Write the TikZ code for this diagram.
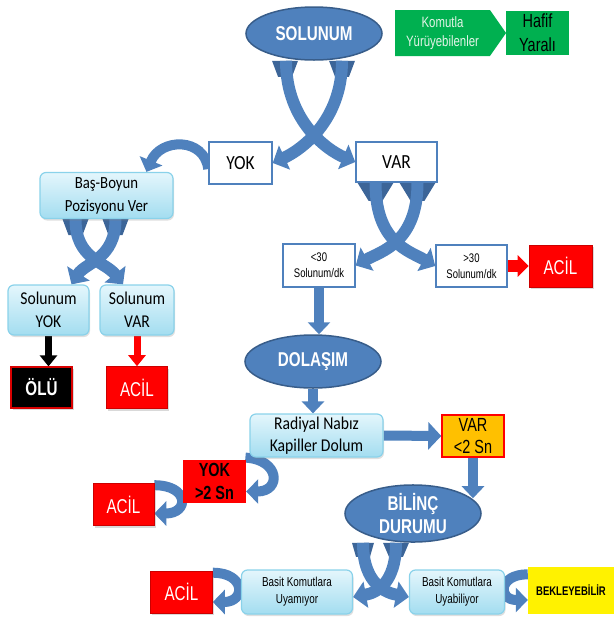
\documentclass[tikz,border=0pt]{standalone}
\usepackage{fontspec}
\setmainfont[FakeStretch=0.87]{Carlito}
\newfontfamily\narrowfont[FakeStretch=0.76]{Liberation Sans}
\usetikzlibrary{shapes.geometric,shapes.symbols,arrows.meta,backgrounds,shadows}

\definecolor{ovalblue}{HTML}{4F81BD}
\definecolor{ovalline}{HTML}{385D8A}
\definecolor{ribbonback}{HTML}{3C6598}
\definecolor{cyantop}{HTML}{E4F6FC}
\definecolor{cyanbottom}{HTML}{A3DDF0}
\definecolor{cyanline}{HTML}{8AD2EA}
\definecolor{alarmred}{HTML}{FF0000}
\definecolor{waitorange}{HTML}{FFC000}
\definecolor{walkgreen}{HTML}{00B050}
\definecolor{mintwhite}{HTML}{E4F4E8}

\tikzset{
  oval/.style={ellipse, fill=ovalblue, draw=ovalline, line width=1.5pt, text=white, align=center,
    inner sep=0pt, minimum width=136pt, font=\narrowfont\bfseries\fontsize{20}{23}\selectfont},
  answerbox/.style={rectangle, draw=ovalblue, line width=1.5pt, fill=white, align=center, inner sep=0pt},
  stepbox/.style={rectangle, rounded corners=6pt, draw=cyanline, line width=1.2pt, top color=cyantop,
    bottom color=cyanbottom, align=center, inner sep=0pt,
    drop shadow={opacity=0.25, shadow xshift=1pt, shadow yshift=-2pt}},
  acilbox/.style={rectangle, fill=alarmred, draw=alarmred!80!black, line width=0.6pt, text=white,
    align=center, inner sep=0pt, minimum width=61pt, minimum height=42pt,
    font=\narrowfont\fontsize{20}{23}\selectfont,
    drop shadow={opacity=0.3, shadow xshift=1.5pt, shadow yshift=-2pt}},
  crossarm/.style={draw=ovalblue, line width=12pt, -{Triangle[width=26pt,length=13pt]}},
  ribbonend/.style={fill=ribbonback},
  uturn/.style={draw=ovalblue, line width=10pt, -{Triangle[width=24pt,length=12pt]}},
  flowarrow/.style={draw=ovalblue, line width=10pt, -{Triangle[width=22pt,length=12pt]}},
  smallarrow/.style={line width=7pt, -{Triangle[width=17pt,length=11pt]}},
}

\begin{document}
\begin{tikzpicture}[x=1pt,y=-1pt]
\useasboundingbox (0,0) rectangle (614,619);
% draw top row
\node[oval, minimum height=53pt] (solunum) at (314,33.5) {SOLUNUM};
\node[signal, signal to=east, signal pointer angle=110, fill=walkgreen, text=mintwhite,
  minimum width=111pt, minimum height=46pt, inner sep=0pt, align=center,
  font=\narrowfont\fontsize{15}{19}\selectfont] (komutla) at (442.5,33) {Komutla\\Yürüyebilenler};
\node[rectangle, fill=walkgreen, minimum width=63pt, minimum height=44pt, inner sep=0pt, align=center,
  font=\narrowfont\fontsize{19}{24}\selectfont] (hafif) at (537.5,33) {Hafif\\Yaralı};
% draw yok / var
\node[answerbox, minimum width=63pt, minimum height=42pt, font=\fontsize{20}{24}\selectfont] (yok) at (240.5,163) {YOK};
\node[answerbox, minimum width=81pt, minimum height=40pt, font=\fontsize{20}{24}\selectfont] (var) at (396.5,162) {VAR};
% draw left branch
\node[stepbox, minimum width=133pt, minimum height=46pt, font=\fontsize{17}{23}\selectfont] (bas) at (106.5,195.5) {Baş-Boyun\\Pozisyonu Ver};
\node[stepbox, minimum width=81pt, minimum height=50pt, font=\fontsize{18}{23}\selectfont] (syok) at (48.5,310) {Solunum\\YOK};
\node[stepbox, minimum width=74pt, minimum height=50pt, font=\fontsize{18}{23}\selectfont] (svar) at (137,310) {Solunum\\VAR};
\node[rectangle, fill=black, draw=alarmred!85!black, line width=1.2pt, text=white, minimum width=61pt,
  minimum height=41pt, inner sep=0pt, font=\narrowfont\bfseries\fontsize{20}{23}\selectfont,
  drop shadow={opacity=0.3, shadow xshift=1.5pt, shadow yshift=-2pt}] (olu) at (41.5,387.5) {ÖLÜ};
\node[acilbox] (acila) at (137,387.5) {ACİL};
% draw rate boxes
\node[answerbox, minimum width=72pt, minimum height=43pt, font=\narrowfont\fontsize{12.5}{16}\selectfont] (lt30) at (319,265.5) {<30\\Solunum/dk};
\node[answerbox, minimum width=71pt, minimum height=42pt, font=\narrowfont\fontsize{12.5}{16}\selectfont] (gt30) at (471.5,266) {>30\\Solunum/dk};
\node[acilbox, minimum width=63pt] (acilb) at (560.5,266) {ACİL};
% draw circulation
\node[oval, minimum height=53pt] (dolasim) at (313,361.5) {DOLAŞIM};
\node[stepbox, minimum width=133pt, minimum height=43pt, font=\fontsize{18}{22}\selectfont] (radiyal) at (316.5,435.5) {Radiyal Nabız\\Kapiller Dolum};
\node[rectangle, fill=waitorange, draw=alarmred, line width=1.5pt, minimum width=62pt, minimum height=42pt,
  inner sep=0pt, align=center, font=\narrowfont\fontsize{19}{22}\selectfont] (var2) at (473,436) {VAR\\<2 Sn};
\node[rectangle, fill=alarmred, minimum width=63pt, minimum height=43pt, inner sep=0pt, align=center,
  font=\narrowfont\bfseries\fontsize{19}{23}\selectfont] (yok2) at (214.5,481.5) {YOK\\>2 Sn};
\node[acilbox] (acilc) at (123.5,504.5) {ACİL};
% draw consciousness
\node[oval, minimum height=56pt] (bilinc) at (413,513.5) {BİLİNÇ\\DURUMU};
\node[stepbox, minimum width=111pt, minimum height=44pt, font=\narrowfont\fontsize{13}{17}\selectfont] (uyamiyor) at (297,592) {Basit Komutlara\\Uyamıyor};
\node[stepbox, minimum width=95pt, minimum height=44pt, font=\narrowfont\fontsize{13}{17}\selectfont] (uyabiliyor) at (457,592) {Basit Komutlara\\Uyabiliyor};
\node[acilbox, minimum width=62pt] (acild) at (181.5,592) {ACİL};
\node[rectangle, fill=yellow, minimum width=86pt, minimum height=47pt, inner sep=0pt,
  font=\narrowfont\bfseries\fontsize{12.5}{15}\selectfont] (bekle) at (571,590) {BEKLEYEBİLİR};

\begin{pgfonlayer}{background}
% draw ribbon ends
\fill[ribbonend] ([xshift=-42pt]solunum.south) -- ++(26,0) -- ++(-6,16) -- ++(-14,0) -- cycle;
\fill[ribbonend] ([xshift=15pt]solunum.south) -- ++(26,0) -- ++(-6,16) -- ++(-14,0) -- cycle;
\fill[ribbonend] ([xshift=-44pt]bas.south) -- ++(26,0) -- ++(-6,16) -- ++(-14,0) -- cycle;
\fill[ribbonend] ([xshift=-4pt]bas.south) -- ++(26,0) -- ++(-6,16) -- ++(-14,0) -- cycle;
\fill[ribbonend] ([xshift=-39pt]var.south) -- ++(36,0) -- ++(-11,18) -- ++(-14,0) -- cycle;
\fill[ribbonend] ([xshift=3pt]var.south) -- ++(36,0) -- ++(-11,18) -- ++(-14,0) -- cycle;
\fill[ribbonend] ([xshift=-61pt]bilinc.south) -- ++(22,0) -- ++(-4,14) -- ++(-14,0) -- cycle;
\fill[ribbonend] ([xshift=-30pt]bilinc.south) -- ++(26,0) -- ++(-6,14) -- ++(-14,0) -- cycle;
% draw crossing arrows
\draw[crossarm] ([xshift=28pt]solunum.south) .. controls +(0,62) and +(26,-12) .. (yok.east);
\draw[crossarm] ([xshift=-28pt]solunum.south) .. controls +(0,62) and +(-26,-11) .. (var.west);
\draw[crossarm] ([xshift=9pt]bas.south) .. controls +(0,40) and +(14,-22) .. ([xshift=23pt]syok.north);
\draw[crossarm] ([xshift=-31pt]bas.south) .. controls +(0,40) and +(-18,-23) .. ([xshift=-14pt]svar.north);
\draw[crossarm] ([xshift=21pt]var.south) .. controls +(0,60) and +(25,-14) .. (lt30.east);
\draw[crossarm] ([xshift=-21pt]var.south) .. controls +(0,60) and +(-26,-15) .. (gt30.west);
\draw[crossarm] ([xshift=-17pt]bilinc.south) .. controls +(0,42) and +(22,-4) .. ([yshift=-5pt]uyamiyor.east);
\draw[crossarm] ([xshift=-50pt]bilinc.south) .. controls +(0,42) and +(-22,-4) .. ([yshift=-5pt]uyabiliyor.west);
% draw turning arrows
\draw[uturn] ([yshift=-6pt]yok.west) .. controls +(-4,-32) and +(14,-34) .. ([xshift=40pt]bas.north);
\draw[uturn] ([xshift=-4pt]radiyal.south west) .. controls +(35,2) and +(35,0) .. ([yshift=-10pt]yok2.east);
\draw[uturn] ([yshift=-2pt]acilc.north east) .. controls +(35,0) and +(35,0) .. ([yshift=-9pt]acilc.east);
\draw[uturn] ([yshift=-2pt]acild.north east) .. controls +(33,0) and +(33,0) .. ([yshift=-10pt]acild.east);
\draw[uturn] ([yshift=-8pt]bekle.north west) .. controls +(-30,0) and +(-30,0) .. ([yshift=-10pt]bekle.west);
% draw straight arrows
\draw[flowarrow] (lt30.south) -- (lt30.south |- dolasim.north);
\draw[flowarrow] (dolasim.south) -- (dolasim.south |- radiyal.north);
\draw[flowarrow, -{Triangle[width=27pt,length=13pt]}] (radiyal.east) -- (var2.west);
\draw[flowarrow, shorten >=-14pt] (var2.south) -- (var2.south |- bilinc.north);
\draw[smallarrow, draw=alarmred, line width=12pt, -{Triangle[width=21pt,length=11pt]}] (gt30.east) -- (acilb.west);
\draw[smallarrow, draw=black] (syok.south) -- (syok.south |- olu.north);
\draw[smallarrow, draw=alarmred] (svar.south) -- (svar.south |- acila.north);
\end{pgfonlayer}
\end{tikzpicture}
\end{document}
